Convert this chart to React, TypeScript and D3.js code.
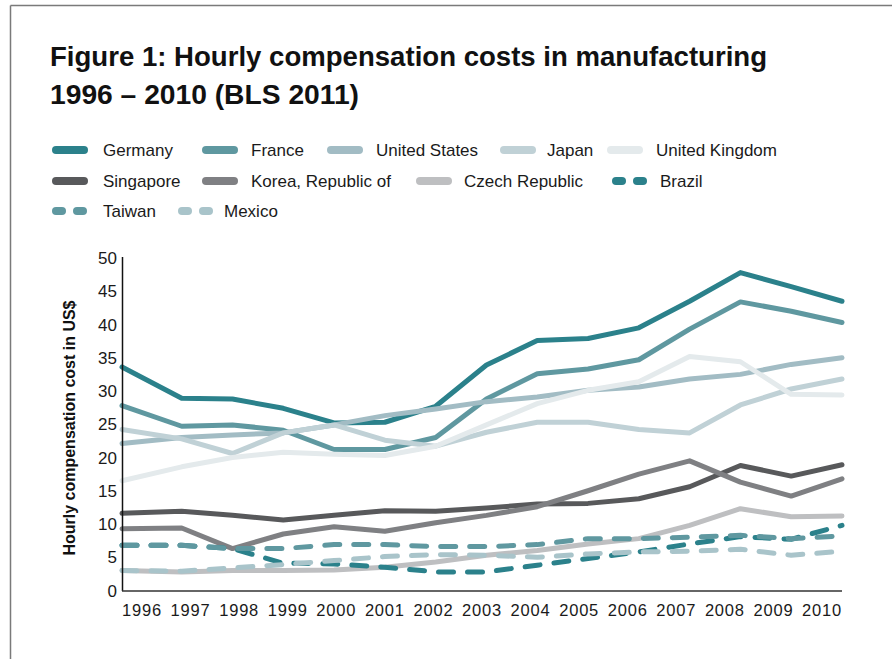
import React from "react";
import * as d3 from "d3";

const years = [1996, 1997, 1998, 1999, 2000, 2001, 2002, 2003, 2004, 2005, 2006, 2007, 2008, 2009, 2010];
const yTicks = [0, 5, 10, 15, 20, 25, 30, 35, 40, 45, 50];

const germany = [33.6, 28.9, 28.8, 27.4, 25.2, 25.3, 27.7, 33.9, 37.6, 37.9, 39.5, 43.5, 47.8, 45.7, 43.5];
const france = [27.8, 24.7, 24.9, 24.1, 21.2, 21.2, 23.0, 28.8, 32.6, 33.3, 34.7, 39.3, 43.4, 42.0, 40.3];
const unitedStates = [22.1, 23.0, 23.4, 23.7, 24.9, 26.3, 27.3, 28.4, 29.1, 30.1, 30.6, 31.8, 32.5, 34.0, 35.0];
const japan = [24.2, 22.8, 20.6, 23.7, 24.9, 22.6, 21.7, 23.8, 25.3, 25.3, 24.2, 23.7, 27.9, 30.3, 31.8];
const unitedKingdom = [16.5, 18.6, 20.0, 20.8, 20.5, 20.3, 21.7, 24.9, 28.1, 30.1, 31.4, 35.2, 34.4, 29.5, 29.4];
const singapore = [11.6, 11.9, 11.3, 10.6, 11.3, 12.0, 11.9, 12.4, 13.0, 13.1, 13.8, 15.6, 18.8, 17.2, 18.9];
const korea = [9.3, 9.4, 6.3, 8.5, 9.6, 8.9, 10.2, 11.3, 12.6, 15.0, 17.5, 19.5, 16.3, 14.2, 16.8];
const czech = [3.0, 2.8, 3.0, 3.0, 3.1, 3.5, 4.3, 5.3, 6.0, 7.0, 7.8, 9.8, 12.3, 11.1, 11.2];
const brazil = [6.8, 6.8, 6.3, 4.1, 4.0, 3.5, 2.8, 2.8, 3.8, 4.8, 5.8, 7.0, 8.1, 7.7, 9.8];
const taiwan = [6.8, 6.8, 6.3, 6.3, 6.9, 6.9, 6.6, 6.6, 6.9, 7.8, 7.8, 8.0, 8.3, 7.8, 8.2];
const mexico = [3.0, 2.9, 3.4, 3.9, 4.5, 5.1, 5.4, 5.3, 5.0, 5.5, 5.8, 5.9, 6.2, 5.3, 5.9];

const seriesNames = [
  "Germany", "France", "United States", "Japan", "United Kingdom",
  "Singapore", "Korea, Republic of", "Czech Republic", "Brazil", "Taiwan", "Mexico",
];
const seriesValues = [germany, france, unitedStates, japan, unitedKingdom, singapore, korea, czech, brazil, taiwan, mexico];
const seriesColors = [
  "#2b818b", "#5f98a0", "#a2bcc4", "#c0d1d6", "#e4eaec",
  "#58595b", "#7f8083", "#bebfc1", "#2b818b", "#5f98a0", "#a9c4ca",
];
const seriesDashed = [false, false, false, false, false, false, false, false, true, true, true];

// legend layout: [x of swatch, row, x of label]
const legendPos: [number, number, number][] = [
  [52, 0, 103], [202, 0, 251], [327, 0, 376], [500, 0, 547], [607, 0, 656],
  [52, 1, 103], [202, 1, 251], [416, 1, 464], [612, 1, 660],
  [52, 2, 103], [178, 2, 224],
];

const FONT = "'Liberation Sans', Arial, Helvetica, sans-serif";

export default function App() {
  const W = 892, H = 659;
  const x = d3.scaleLinear().domain([1996, 1997, 2010]).range([122, 181.7, 842]);
  const xLabel = d3.scalePoint<number>().domain(years).range([142, 822]);
  const y = d3.scaleLinear().domain([0, 50]).range([590.5, 258]);
  const line = d3.line<number>().x((_, i) => x(years[i])).y((v) => y(v)).curve(d3.curveLinear);

  const rowY = [150, 181, 211];

  return (
    <svg width={W} height={H} style={{ position: "absolute", left: 0, top: 0, background: "#fff" }}>
      <rect x={0} y={0} width={W} height={H} fill="#fff" />
      <line x1={10.5} y1={5.5} x2={W} y2={5.5} stroke="#7a7a7a" strokeWidth={1.5} />
      <line x1={10.5} y1={5.5} x2={10.5} y2={H} stroke="#7a7a7a" strokeWidth={1.5} />

      <text x={50} y={66} fontFamily={FONT} fontWeight={700} fontSize={28} fill="#111" textLength={717} lengthAdjust="spacingAndGlyphs">
        Figure 1: Hourly compensation costs in manufacturing
      </text>
      <text x={50} y={104} fontFamily={FONT} fontWeight={700} fontSize={28} fill="#111" textLength={309} lengthAdjust="spacingAndGlyphs">
        1996 – 2010 (BLS 2011)
      </text>

      {seriesNames.map((name, i) => {
        const [sx, row, tx] = legendPos[i];
        const cy = rowY[row];
        return (
          <g key={name}>
            {seriesDashed[i] ? (
              <g>
                <line x1={sx + 4} y1={cy} x2={sx + 10} y2={cy} stroke={seriesColors[i]} strokeWidth={8} strokeLinecap="round" />
                <line x1={sx + 25} y1={cy} x2={sx + 31} y2={cy} stroke={seriesColors[i]} strokeWidth={8} strokeLinecap="round" />
              </g>
            ) : (
              <line x1={sx + 4} y1={cy} x2={sx + 32} y2={cy} stroke={seriesColors[i]} strokeWidth={8} strokeLinecap="round" />
            )}
            <text x={tx} y={cy + 6} fontFamily={FONT} fontSize={17} fill="#1a1a1a">{name}</text>
          </g>
        );
      })}

      <text
        transform={`translate(75,${428}) rotate(-90)`}
        textAnchor="middle"
        fontFamily={FONT}
        fontWeight={700}
        fontSize={17}
        fill="#111"
        textLength={255}
        lengthAdjust="spacingAndGlyphs"
      >
        Hourly compensation cost in US$
      </text>

      {yTicks.map((t) => (
        <text key={t} x={117} y={y(t) + 6} textAnchor="end" fontFamily={FONT} fontSize={17} fill="#1a1a1a">{t}</text>
      ))}
      {years.map((yr) => (
        <text key={yr} x={xLabel(yr)} y={616} textAnchor="middle" fontFamily={FONT} fontSize={16.5} letterSpacing={0.8} fill="#1a1a1a">{yr}</text>
      ))}

      {seriesValues.map((vals, i) => (
        <path
          key={seriesNames[i]}
          d={line(vals) || ""}
          fill="none"
          stroke={seriesColors[i]}
          strokeWidth={5}
          strokeLinejoin="round"
          strokeLinecap="round"
          strokeDasharray={seriesDashed[i] ? "15 14" : undefined}
        />
      ))}

      <line x1={122.5} y1={257} x2={122.5} y2={591} stroke="#111" strokeWidth={1.5} />
      <line x1={122} y1={591} x2={842} y2={591} stroke="#333" strokeWidth={1.5} />
    </svg>
  );
}
